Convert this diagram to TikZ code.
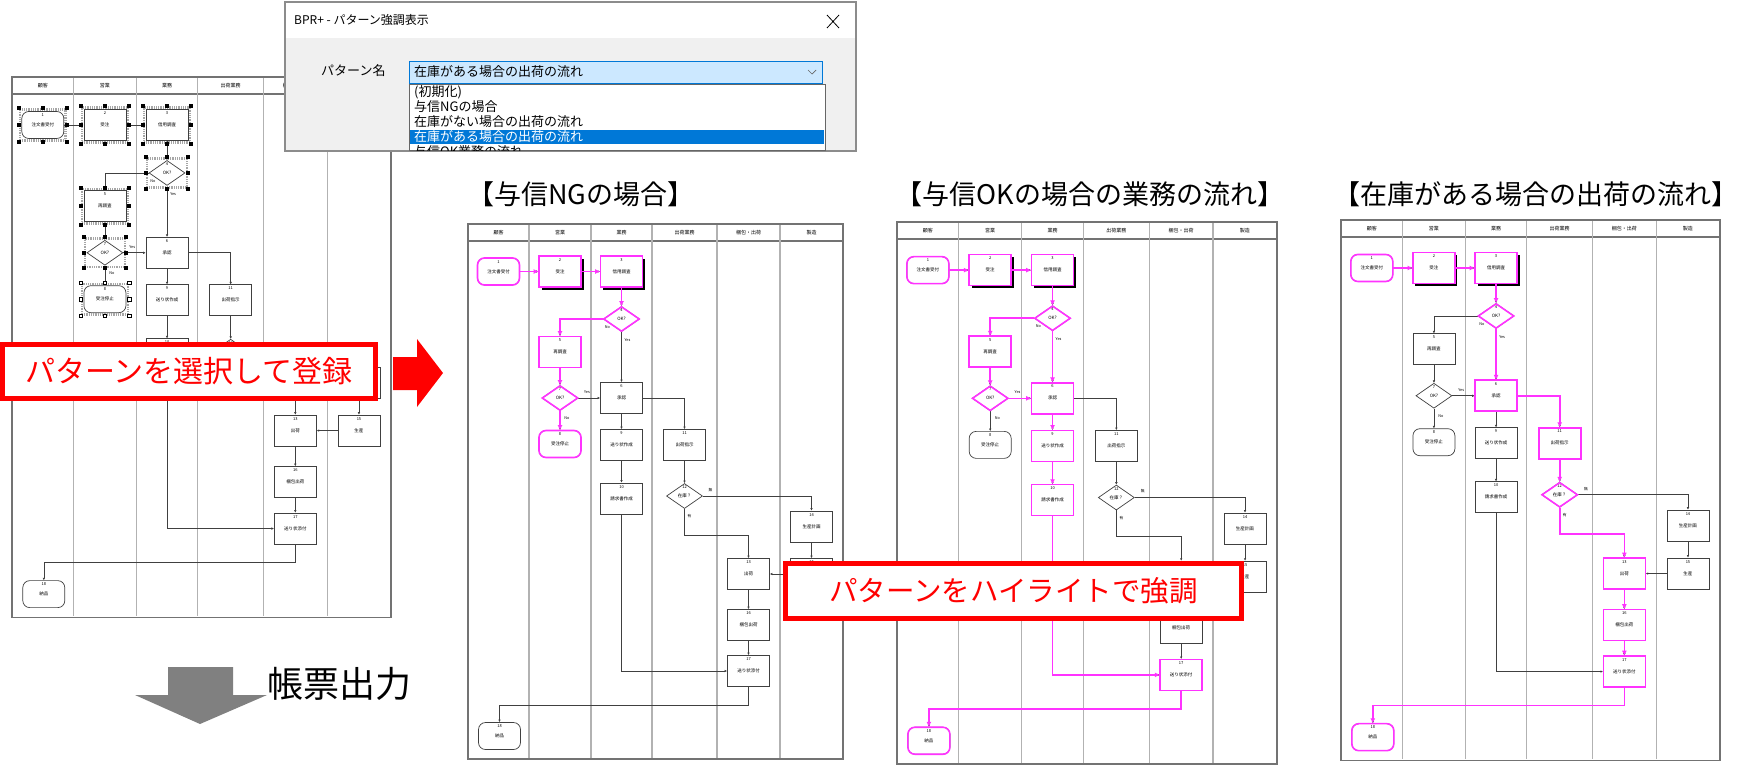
\documentclass[tikz,border=0pt]{standalone}
\usepackage{fontspec}
\setmainfont{Noto Sans CJK JP}
\usetikzlibrary{shapes.geometric,arrows.meta,fit,shadows}
\definecolor{hlpink}{HTML}{FF33FF}
\definecolor{winblue}{HTML}{0078D7}
\definecolor{combofill}{HTML}{CCE8FF}
\definecolor{dlggray}{HTML}{F0F0F0}
\newcommand\tinyfont{\fontsize{4.5}{5}\selectfont}
\tikzset{
  x=1pt, y=-1pt,
  lanefr/.style={draw=black!55, line width=1.6pt},
  laneln/.style={draw=black!30, line width=1.2pt},
  hdr/.style={font=\fontsize{5}{6}\selectfont, inner sep=0pt},
  proc/.style={rectangle, draw=black!75, line width=0.7pt, fill=white, minimum width=42pt, minimum height=31pt, inner sep=0pt, font=\tinyfont},
  term/.style={proc, rounded corners=7pt, minimum height=27pt},
  chk/.style={diamond, aspect=1.44, draw=black!75, line width=0.7pt, fill=white, minimum width=36pt, minimum height=25pt, inner sep=0pt, font=\tinyfont},
  num/.style={font=\fontsize{4}{4}\selectfont, inner sep=0pt},
  tag/.style={font=\fontsize{3.8}{4}\selectfont, inner sep=0pt},
  ln/.style={draw=black!75, line width=0.6pt, -{Latex[length=2.5pt,width=2.5pt]}},
  hln/.style={draw=hlpink, line width=1.6pt, -{Latex[length=5pt,width=5pt]}},
  hlnode/.style={draw=hlpink, line width=1.6pt, fill=none},
  shade23/.style={drop shadow={shadow xshift=2.5pt, shadow yshift=-2.5pt, opacity=1, fill=black}},
  noshade/.style={},
  selfr/.style={draw=black!35, line width=2.5pt, inner sep=1.5pt, dash pattern=on 1pt off 0.8pt},
  handle/.style={rectangle, fill=black, minimum size=4pt, inner sep=0pt},
  openhandle/.style={rectangle, draw=black, fill=white, line width=0.5pt, minimum size=3.5pt, inner sep=0pt},
  callout/.style={rectangle, draw=red, line width=5pt, fill=white, text=red, inner sep=0pt},
  title/.style={font=\fontsize{27}{30}\selectfont, inner sep=0pt},
  uitext/.style={anchor=west, font=\fontsize{13}{14}\selectfont, inner sep=0pt},
}
% one step of the flow: box, then its number at the top
\newcommand\flownode[5]{%
  \node[#1] (#2) at (#3) {#5};
  \node[num] at ([yshift=-4pt]#2.north) {#4};}
% the swimlane chart, drawn in black
\newcommand\basechart[1]{%
  \draw[lanefr] (0,0) rectangle (375,535);
  \draw[lanefr] (0,17) -- (375,17);
  \foreach \lx in {61,123,184,249,312} \draw[laneln] (\lx,1) -- (\lx,534);
  \foreach \cx/\lt in {30.5/顧客,92/営業,153.5/業務,216.5/出荷業務,280.5/梱包・出荷,343.5/製造}
    \node[hdr] at (\cx,8.5) {\lt};
  \flownode{term}{n1}{30.5,47.5}{1}{注文書受付}
  \flownode{proc,#1}{n2}{92,47.5}{2}{受注}
  \flownode{proc,#1}{n3}{153.5,47.5}{3}{信用調査}
  \flownode{chk}{n4}{153.5,95}{4}{OK?}
  \flownode{proc}{n5}{92,128}{5}{再調査}
  \flownode{chk}{n7}{92,174}{7}{OK?}
  \flownode{term}{n8}{92,220}{8}{受注停止}
  \flownode{proc}{n6}{153.5,174}{6}{承認}
  \flownode{proc}{n9}{153.5,221}{9}{送り状作成}
  \flownode{proc}{n11}{216.5,221}{11}{出荷指示}
  \flownode{proc}{n10}{153.5,274.5}{10}{請求書作成}
  \flownode{chk}{n12}{216.5,272}{12}{在庫？}
  \flownode{proc}{n14}{343.5,302.5}{14}{生産計画}
  \flownode{proc}{n15}{343.5,350}{15}{生産}
  \flownode{proc}{n13}{280.5,350}{13}{出荷}
  \flownode{proc}{n16}{280.5,401}{16}{梱包出荷}
  \flownode{proc}{n17}{280.5,447}{17}{送り状添付}
  \flownode{term}{n18}{31.5,512}{18}{納品}
  \draw[ln] (n1.east) -- (n2.west);
  \draw[ln] (n2.east) -- (n3.west);
  \draw[ln] (n3.south) -- (n4.north);
  \draw[ln] (n4.west) -| (n5.north);
  \draw[ln] (n4.south) -- (n6.north);
  \draw[ln] (n5.south) -- (n7.north);
  \draw[ln] (n7.east) -- (n6.west);
  \draw[ln] (n7.south) -- (n8.north);
  \draw[ln] (n6.south) -- (n9.north);
  \draw[ln] (n6.east) -| (n11.north);
  \draw[ln] (n9.south) -- (n10.north);
  \draw[ln] (n11.south) -- (n12.north);
  \draw[ln] (n12.east) -| (n14.north);
  \draw[ln] (n12.south) -- ++(0,26) -| (n13.north);
  \draw[ln] (n14.south) -- (n15.north);
  \draw[ln] (n15.west) -- (n13.east);
  \draw[ln] (n13.south) -- (n16.north);
  \draw[ln] (n16.south) -- (n17.north);
  \draw[ln] (n10.south) |- (n17.west);
  \draw[ln] (n17.south) -- ++(0,18) -| (n18.north);
  \node[tag] (t4n) at ([xshift=-14pt,yshift=-8pt]n4.center) {No};
  \node[tag] (t4y) at ([xshift=6pt,yshift=-21pt]n4.center) {Yes};
  \node[tag] (t7y) at ([xshift=27pt,yshift=6pt]n7.center) {Yes};
  \node[tag] (t7n) at ([xshift=7pt,yshift=-20pt]n7.center) {No};
  \node[tag] (t12n) at ([xshift=26pt,yshift=6pt]n12.center) {無};
  \node[tag] (t12y) at ([xshift=5pt,yshift=-20pt]n12.center) {有};}
% selection handles round a step
\newcommand\selmark[2]{%
  \node[selfr, fit=(#1)] (sf#1) {};
  \foreach \an in {north west,north,north east,east,south east,south,south west,west}
    \node[#2] at (sf#1.\an) {};}

\begin{document}
\begin{tikzpicture}
\useasboundingbox (0,0) rectangle (1738,764);
\fill[white] (0,0) rectangle (1738,764);

% registered chart with selection
\begin{scope}[shift={(12,77)}, scale=1.01]
  \basechart{noshade}
  \foreach \s in {n1,n2,n3,n4,n5,n7} {\selmark{\s}{handle}}
  \selmark{n8}{openhandle}
\end{scope}

% dialog
\draw[draw=black!45, line width=1.5pt, fill=dlggray] (285,2) rectangle (856,151);
\fill[white] (286,3) rectangle (855,38);
\node[anchor=west, font=\fontsize{12}{14}\selectfont, inner sep=0pt] (dlgtitle) at (294,20) {BPR+ - パターン強調表示};
\draw[line width=0.8pt] (827,15) -- (839,28) (839,15) -- (827,28);
\node[uitext] (pname) at (321,71) {パターン名};
\node[draw=winblue, line width=0.8pt, fill=combofill, minimum width=413pt, minimum height=22pt] (combo) at (615.5,72) {};
\node[uitext] (combotxt) at (414,72) {在庫がある場合の出荷の流れ};
\draw[black!60, line width=0.7pt] (808,70) -- (812,74) -- (816,70);
\draw[fill=white, draw=black!60, line width=0.6pt] (409,84) rectangle (825,150);
\fill[winblue] (410,130) rectangle (824,144);
\node[uitext] (it1) at (414,92) {(初期化)};
\node[uitext] (it2) at (414,107) {与信NGの場合};
\node[uitext] (it3) at (414,122) {在庫がない場合の出荷の流れ};
\node[uitext, text=white] (it4) at (414,137) {在庫がある場合の出荷の流れ};
\begin{scope}
  \clip (409,84) rectangle (825,150);
  \node[uitext] (it5) at (414,152) {与信OK業務の流れ};
\end{scope}

% credit NG
\node[title] (tng) at (581,194) {【与信NGの場合】};
\begin{scope}[shift={(468,224)}]
  \basechart{shade23}
  \draw[hln] (n1.east) -- (n2.west);
  \draw[hln] (n2.east) -- (n3.west);
  \draw[hln] (n3.south) -- (n4.north);
  \draw[hln] (n4.west) -| (n5.north);
  \draw[hln] (n5.south) -- (n7.north);
  \draw[hln] (n7.south) -- (n8.north);
  \node[term,hlnode] at (n1) {};
  \node[proc,hlnode] at (n2) {};
  \node[proc,hlnode] at (n3) {};
  \node[chk,hlnode] at (n4) {};
  \node[proc,hlnode] at (n5) {};
  \node[chk,hlnode] at (n7) {};
  \node[term,hlnode] at (n8) {};
\end{scope}

% credit OK
\node[title] (tok) at (1090,194) {【与信OKの場合の業務の流れ】};
\begin{scope}[shift={(897,222)}, scale=1.013]
  \basechart{shade23}
  \draw[hln] (n1.east) -- (n2.west);
  \draw[hln] (n2.east) -- (n3.west);
  \draw[hln] (n3.south) -- (n4.north);
  \draw[hln] (n4.west) -| (n5.north);
  \draw[hln] (n4.south) -- (n6.north);
  \draw[hln] (n5.south) -- (n7.north);
  \draw[hln] (n7.east) -- (n6.west);
  \draw[hln] (n6.south) -- (n9.north);
  \draw[hln] (n9.south) -- (n10.north);
  \draw[hln] (n10.south) |- (n17.west);
  \draw[hln] (n17.south) -- ++(0,18) -| (n18.north);
  \node[term,hlnode] at (n1) {};
  \node[proc,hlnode] at (n2) {};
  \node[proc,hlnode] at (n3) {};
  \node[chk,hlnode] at (n4) {};
  \node[proc,hlnode] at (n5) {};
  \node[chk,hlnode] at (n7) {};
  \node[proc,hlnode] at (n6) {};
  \node[proc,hlnode] at (n9) {};
  \node[proc,hlnode] at (n10) {};
  \node[proc,hlnode] at (n17) {};
  \node[term,hlnode] at (n18) {};
\end{scope}

% in stock
\node[title] (tst) at (1536,194) {【在庫がある場合の出荷の流れ】};
\begin{scope}[shift={(1341,220)}, scale=1.01]
  \basechart{shade23}
  \draw[hln] (n1.east) -- (n2.west);
  \draw[hln] (n2.east) -- (n3.west);
  \draw[hln] (n3.south) -- (n4.north);
  \draw[hln] (n4.south) -- (n6.north);
  \draw[hln] (n6.east) -| (n11.north);
  \draw[hln] (n11.south) -- (n12.north);
  \draw[hln] (n12.south) -- ++(0,26) -| (n13.north);
  \draw[hln] (n13.south) -- (n16.north);
  \draw[hln] (n16.south) -- (n17.north);
  \draw[hln] (n17.south) -- ++(0,18) -| (n18.north);
  \node[term,hlnode] at (n1) {};
  \node[proc,hlnode] at (n2) {};
  \node[proc,hlnode] at (n3) {};
  \node[chk,hlnode] at (n4) {};
  \node[proc,hlnode] at (n6) {};
  \node[proc,hlnode] at (n11) {};
  \node[chk,hlnode] at (n12) {};
  \node[proc,hlnode] at (n13) {};
  \node[proc,hlnode] at (n16) {};
  \node[proc,hlnode] at (n17) {};
  \node[term,hlnode] at (n18) {};
\end{scope}

% callouts
\node[callout, minimum width=373pt, minimum height=54pt, font=\fontsize{30}{32}\selectfont] (regbox) at (189,371.5) {パターンを選択して登録};
\fill[red] (393,357) -- (417,357) -- (417,339) -- (443,373) -- (417,407) -- (417,390) -- (393,390) -- cycle;
\node[callout, minimum width=456pt, minimum height=55pt, font=\fontsize{28.5}{30}\selectfont] (hlbox) at (1013.5,591) {パターンをハイライトで強調};

% report output
\fill[gray] (168,667) -- (233,667) -- (233,695) -- (267,695) -- (200,724) -- (135,695) -- (168,695) -- cycle;
\node[font=\fontsize{36}{38}\selectfont, inner sep=0pt] (report) at (339.5,684) {帳票出力};
\end{tikzpicture}
\end{document}
